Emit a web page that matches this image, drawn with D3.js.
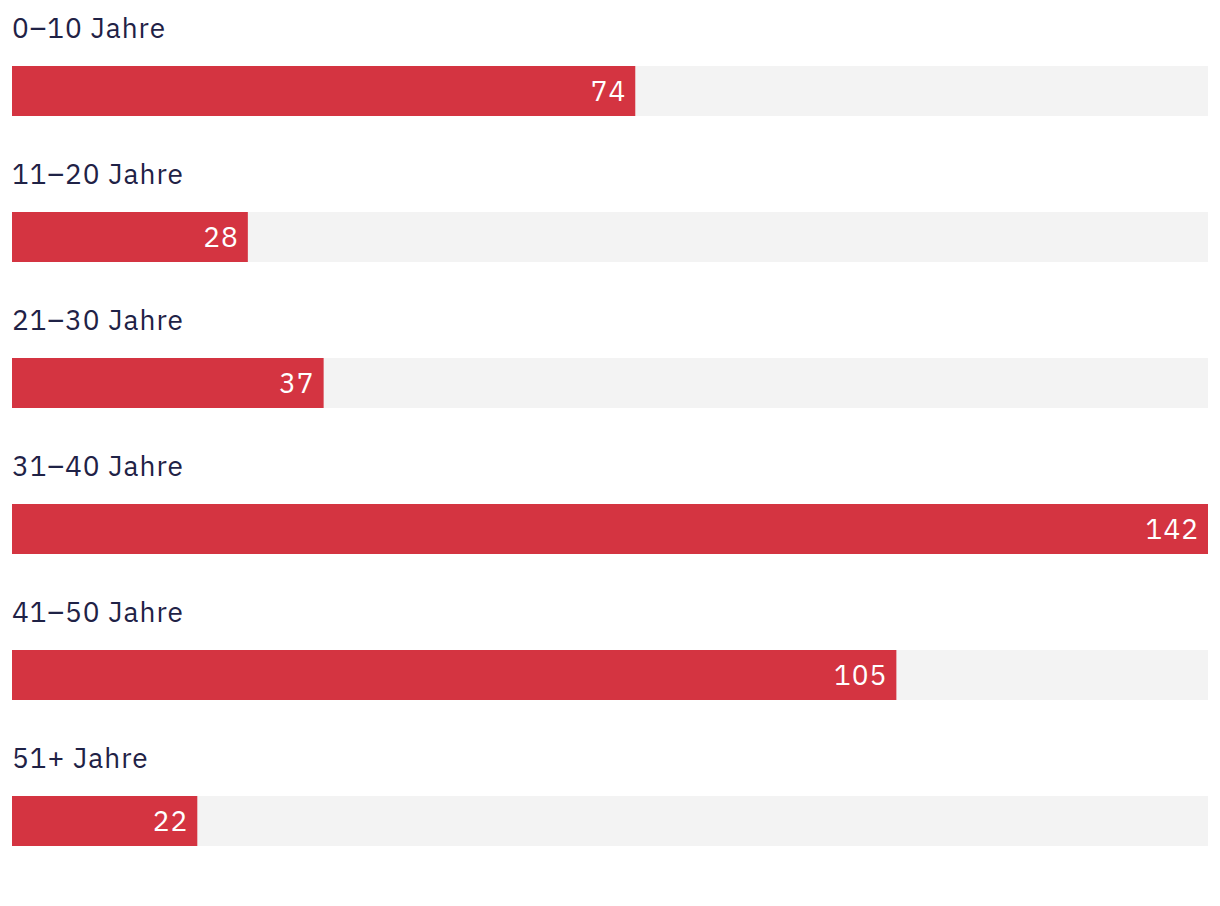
<!DOCTYPE html>
<html><head><meta charset="utf-8">
<script src="https://cdn.jsdelivr.net/npm/d3@7"></script>
<style>body{margin:0;background:#fff}svg{display:block}</style>
</head><body>
<script>
const categories = ["0–10 Jahre","11–20 Jahre","21–30 Jahre","31–40 Jahre","41–50 Jahre","51+ Jahre"];
const values = [74, 28, 37, 142, 105, 22];

const W = 1220, H = 906;
const left = 12, right = 1208;
const svg = d3.select("body").append("svg").attr("width", W).attr("height", H);
const x = d3.scaleLinear().domain([0, d3.max(values)]).range([left, right]);
const y = d3.scaleBand().domain(categories).range([0, 146 * categories.length]).paddingInner(0).paddingOuter(0);
const font = "'IBM Plex Sans', 'Noto Sans', 'Open Sans', sans-serif";

const g = svg.selectAll("g.row").data(categories).join("g").attr("class","row")
  .attr("transform", d => `translate(0,${y(d)})`);

g.append("text").attr("x", 12).attr("y", 38).text(d => d)
  .style("font-family", font).style("font-size", "28px").style("letter-spacing", "1px").attr("fill", "#1f2246");

g.append("rect").attr("x", left).attr("y", 66).attr("height", 50)
  .attr("width", right - left).attr("fill", "#f3f3f3");

g.append("rect").attr("x", left).attr("y", 66).attr("height", 50)
  .attr("width", (d,i) => x(values[i]) - left).attr("fill", "#d43441");

g.append("text").attr("x", (d,i) => x(values[i]) - 9).attr("y", 101)
  .attr("text-anchor", "end").text((d,i) => values[i])
  .style("font-family", font).style("font-size", "28px").style("letter-spacing", "1px").attr("fill", "#fff");
</script>
</body></html>
